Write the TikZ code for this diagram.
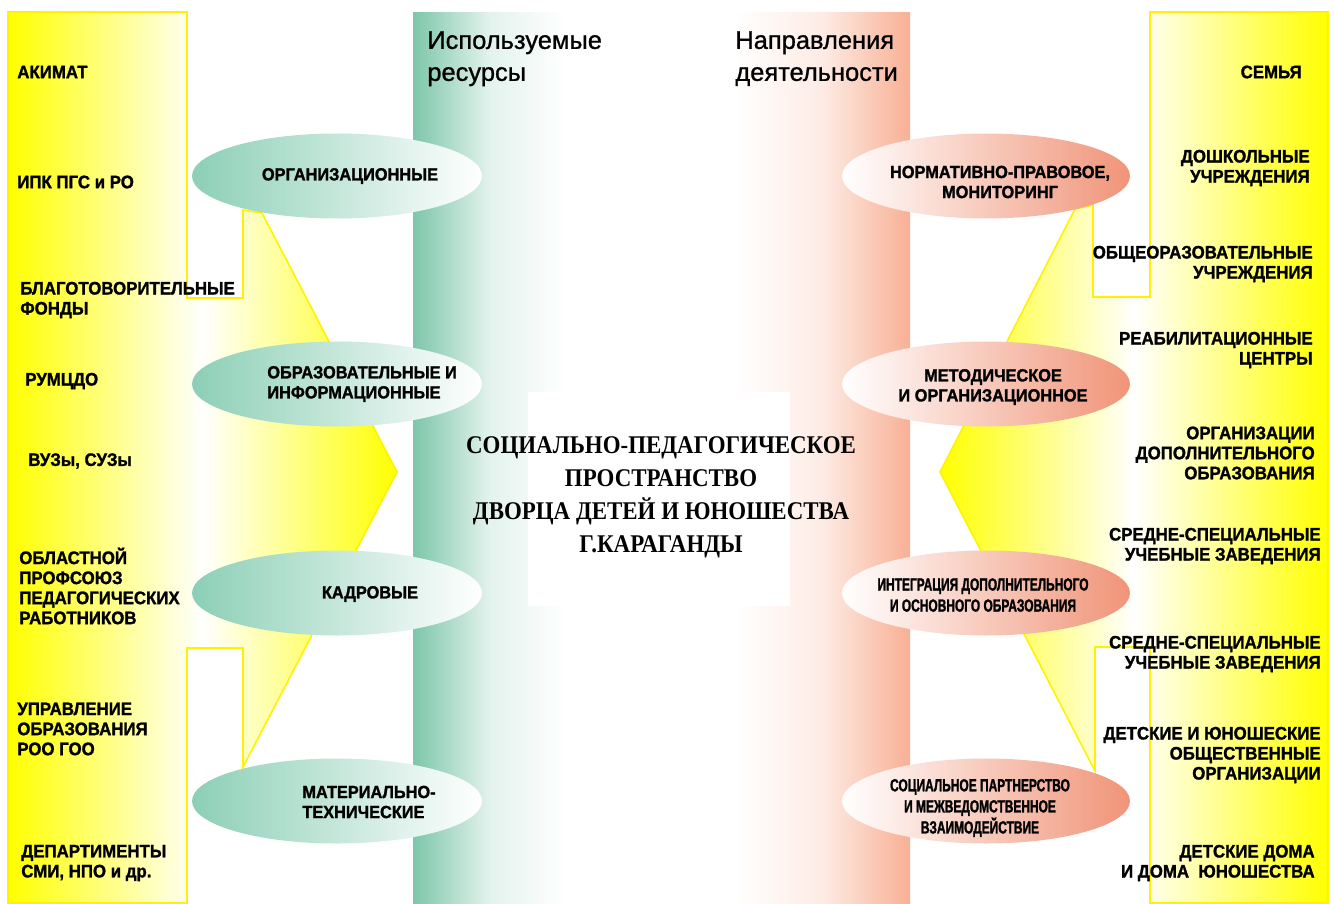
\documentclass[tikz,border=0pt]{standalone}
\usepackage{fontspec}
\setmainfont{Liberation Sans}
\newfontfamily\labelfont[FakeStretch=0.93,FakeBold=1.4]{Liberation Sans}
\newfontfamily\narrowfont[FakeStretch=0.68,FakeBold=1.4]{Liberation Sans}
\newfontfamily\headfont[FakeBold=0.9]{Liberation Sans}
\newfontfamily\titlefont[FakeStretch=0.9]{Liberation Serif}
\usepackage{tikz}
\usetikzlibrary{shapes.geometric}
\definecolor{mint}{RGB}{140,207,182}
\definecolor{salmon}{RGB}{240,148,120}
\definecolor{bandgreen}{RGB}{125,198,170}
\definecolor{bandpink}{RGB}{248,176,148}
\tikzstyle{partnerleft} = [anchor=west, align=left, inner sep=0pt, font=\labelfont\bfseries\fontsize{10.3}{11.4}\selectfont]
\tikzstyle{partnerright} = [anchor=east, align=right, inner sep=0pt, font=\labelfont\bfseries\fontsize{10.3}{11.4}\selectfont]
\tikzstyle{resource} = [ellipse, inner sep=0pt, minimum width=5.8cm, minimum height=1.7cm, left color=mint, right color=white]
\tikzstyle{activity} = [ellipse, inner sep=0pt, minimum width=5.76cm, minimum height=1.7cm, left color=white, right color=salmon]
\tikzstyle{inlabel} = [inner sep=0pt, font=\labelfont\bfseries\fontsize{10}{11.4}\selectfont]
\tikzstyle{tightlabel} = [inner sep=0pt, align=center, font=\narrowfont\bfseries\fontsize{10}{12}\selectfont]
\tikzstyle{heading} = [anchor=north west, align=left, inner sep=0pt, font=\headfont\fontsize{14.5}{18.2}\selectfont]
\tikzstyle{funnel} = [draw=yellow, line width=0.9pt, line join=miter]

\begin{document}
\begin{tikzpicture}[x=0.02cm, y=-0.02cm]
                 \useasboundingbox (0,0) rectangle (1334,903);
                 \fill[white] (0,0) rectangle (1334,903);
                 \draw [funnel, left color=yellow, right color=yellow, middle color=white]
                     (8,12) -- (187,12) -- (187,298) -- (243,298) -- (243,210) -- (262,213)
                     -- (397,472) -- (243,767) -- (243,648) -- (187,648) -- (187,903)
                     -- (8,903) -- cycle;
                 \draw [funnel, left color=yellow, right color=yellow, middle color=white]
                     (1328,12) -- (1150,12) -- (1150,297) -- (1093,297) -- (1093,205) -- (1075,209)
                     -- (940,472) -- (1095,771) -- (1095,647) -- (1150,647) -- (1150,903)
                     -- (1328,903) -- cycle;
                 \shade [left color=bandgreen, right color=white, middle color=bandgreen!22] (413,12) rectangle (565,903);
                 \shade [left color=white, right color=bandpink, middle color=bandpink!25] (735,12) rectangle (910,903);
                 \node (resources) [heading] at (427,31) {Используемые\\ресурсы};
                 \node (directions) [heading] at (735,31) {Направления\\деятельности};
                 \fill [white] (528,392) rectangle (790,606);
                 \node (space) [inner sep=0pt, align=center,
                     font=\titlefont\bfseries\fontsize{14.5}{18.8}\selectfont] at (661,497)
                     {СОЦИАЛЬНО-ПЕДАГОГИЧЕСКОЕ\\ПРОСТРАНСТВО\\ДВОРЦА ДЕТЕЙ И ЮНОШЕСТВА\\Г.КАРАГАНДЫ};
                 \node (org) [resource] at (337,176) {};
                 \node (info) [resource] at (337,384) {};
                 \node (staff) [resource] at (337,593) {};
                 \node (material) [resource] at (337,801) {};
                 \node (norm) [activity] at (986,176) {};
                 \node (method) [activity] at (986,384) {};
                 \node (integr) [activity] at (986,593) {};
                 \node (partner) [activity] at (986,801) {};
                 \node (orgtext) [inlabel] at (350,176) {ОРГАНИЗАЦИОННЫЕ};
                 \node (infotext) [inlabel, anchor=west, align=left] at (267,384) {ОБРАЗОВАТЕЛЬНЫЕ И\\ИНФОРМАЦИОННЫЕ};
                 \node (stafftext) [inlabel] at (370,594) {КАДРОВЫЕ};
                 \node (materialtext) [inlabel, anchor=west, align=left] at (302,802) {МАТЕРИАЛЬНО-\\ТЕХНИЧЕСКИЕ};
                 \node (normtext) [inlabel, align=center] at (1000,182) {НОРМАТИВНО-ПРАВОВОЕ,\\МОНИТОРИНГ};
                 \node (methodtext) [inlabel, align=center] at (993,387) {МЕТОДИЧЕСКОЕ\\И ОРГАНИЗАЦИОННОЕ};
                 \node (integrtext) [tightlabel] at (983,595) {ИНТЕГРАЦИЯ ДОПОЛНИТЕЛЬНОГО\\И ОСНОВНОГО ОБРАЗОВАНИЯ};
                 \node (partnertext) [tightlabel] at (980,808) {СОЦИАЛЬНОЕ ПАРТНЕРСТВО\\И МЕЖВЕДОМСТВЕННОЕ\\ВЗАИМОДЕЙСТВИЕ};
                 \node (akimat) [partnerleft] at (17,72) {АКИМАТ};
                 \node (ipk) [partnerleft] at (17,182) {ИПК ПГС и РО};
                 \node (funds) [partnerleft] at (20,300) {БЛАГОТОВОРИТЕЛЬНЫЕ\\ФОНДЫ};
                 \node (rumcdo) [partnerleft] at (25,381) {РУМЦДО};
                 \node (vuz) [partnerleft] at (28,461) {ВУЗы, СУЗы};
                 \node (union) [partnerleft] at (19,586) {ОБЛАСТНОЙ\\ПРОФСОЮЗ\\ПЕДАГОГИЧЕСКИХ\\РАБОТНИКОВ};
                 \node (eduboard) [partnerleft] at (17,729) {УПРАВЛЕНИЕ\\ОБРАЗОВАНИЯ\\РОО ГОО};
                 \node (media) [partnerleft] at (21,863) {ДЕПАРТИМЕНТЫ\\СМИ, НПО и др.};
                 \node (family) [partnerright] at (1302,72) {СЕМЬЯ};
                 \node (preschool) [partnerright] at (1310,168) {ДОШКОЛЬНЫЕ\\УЧРЕЖДЕНИЯ};
                 \node (schools) [partnerright] at (1313,264) {ОБЩЕОРАЗОВАТЕЛЬНЫЕ\\УЧРЕЖДЕНИЯ};
                 \node (rehab) [partnerright] at (1313,350) {РЕАБИЛИТАЦИОННЫЕ\\ЦЕНТРЫ};
                 \node (extra) [partnerright] at (1315,453) {ОРГАНИЗАЦИИ\\ДОПОЛНИТЕЛЬНОГО\\ОБРАЗОВАНИЯ};
                 \node (college) [partnerright] at (1321,546) {СРЕДНЕ-СПЕЦИАЛЬНЫЕ\\УЧЕБНЫЕ ЗАВЕДЕНИЯ};
                 \node (collegeb) [partnerright] at (1321,654) {СРЕДНЕ-СПЕЦИАЛЬНЫЕ\\УЧЕБНЫЕ ЗАВЕДЕНИЯ};
                 \node (youth) [partnerright] at (1321,755) {ДЕТСКИЕ И ЮНОШЕСКИЕ\\ОБЩЕСТВЕННЫЕ\\ОРГАНИЗАЦИИ};
                 \node (homes) [partnerright] at (1315,863) {ДЕТСКИЕ ДОМА\\И ДОМА\ \ ЮНОШЕСТВА};
             \end{tikzpicture}
\end{document}
